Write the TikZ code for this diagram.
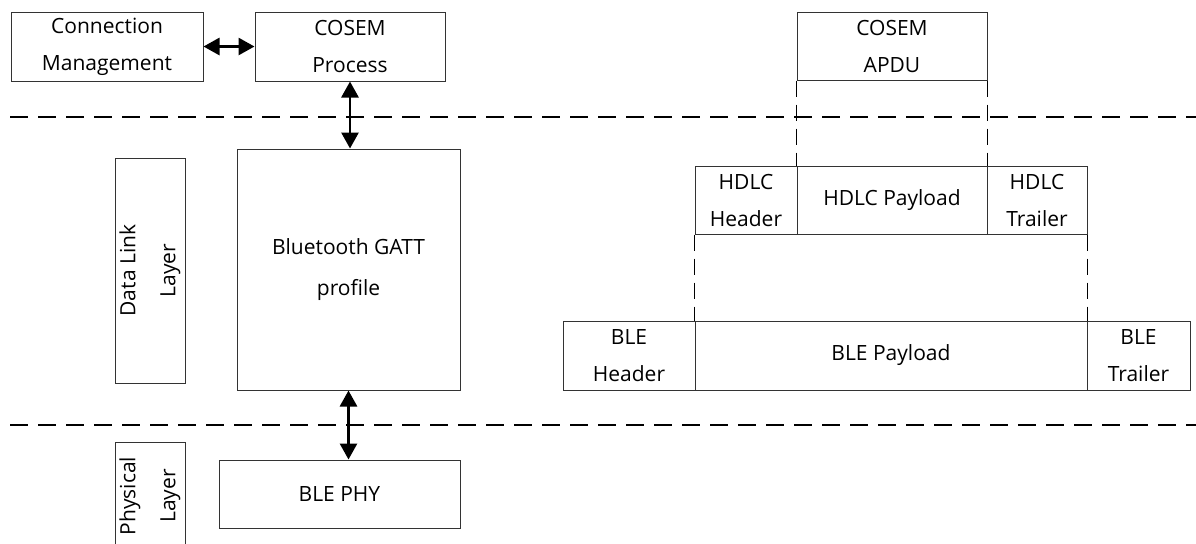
\documentclass[tikz,border=0pt]{standalone}
\usepackage{fontspec}
\setmainfont{Open Sans}
\usetikzlibrary{arrows.meta}

\begin{document}
\begin{tikzpicture}[
    x=0.5pt, y=-0.5pt,
    block/.style={rectangle, draw=black!80, line width=0.5pt, inner sep=0pt,
                  align=center, font=\fontsize{10.5}{18.5}\selectfont},
    layerbox/.style={block, minimum width=35pt},
    sep/.style={line width=1.2pt, dash pattern=on 9pt off 5pt},
    mapping/.style={line width=0.7pt, dash pattern=on 8pt off 4pt},
    link/.style={{Triangle[length=8pt,width=8.5pt]}-{Triangle[length=8pt,width=8.5pt]}, line width=1.4pt}
]

% Frame
\clip (0,0) rectangle (1196,543);

% Layer separators
\draw[sep] (10,117) -- (1196,117);
\draw[sep] (10,425) -- (1196,425);

% Left stack
\node[block, minimum width=96pt, minimum height=34.5pt] at (107,46.5) (conn) {Connection\\Management};
\node[block, minimum width=95pt, minimum height=34.5pt] at (350,46.5) (proc) {COSEM\\Process};
\node[block, minimum width=111.5pt, minimum height=120.5pt,
      font=\fontsize{10.5}{20.5}\selectfont] at (348.5,269.5) (gatt) {Bluetooth GATT\\profile};
\node[block, minimum width=120.5pt, minimum height=34pt] at (339.5,494) (phy) {BLE PHY};

% Layer names
\node[layerbox, minimum height=112.5pt] at (150,270.5) (dll) {};
\node[rotate=90, align=center, font=\fontsize{10.5}{20}\selectfont] at (dll.center) {Data Link\\Layer};
\node[layerbox, minimum height=54pt] at (150,496) (phyl) {};
\node[rotate=90, align=center, font=\fontsize{10.5}{20}\selectfont] at (phyl.center) {Physical\\Layer};

% Interfaces
\draw[link] (conn.east) -- (proc.west);
\draw[link] (proc.south) -- (proc.south |- gatt.north);
\draw[link] (gatt.south) -- (gatt.south |- phy.north);

% Encapsulation
\node[block, minimum width=95pt, minimum height=34pt] at (892,46) (apdu) {COSEM\\APDU};

\node[block, minimum width=51pt, minimum height=34pt] at (746,200) (hdlch) {HDLC\\Header};
\node[block, minimum width=95pt, minimum height=34pt] at (892,200) (hdlcp) {HDLC Payload};
\node[block, minimum width=50pt, minimum height=34pt] at (1037,200) (hdlct) {HDLC\\Trailer};

\node[block, minimum width=66pt, minimum height=34.5pt] at (629,355.5) (bleh) {BLE\\Header};
\node[block, minimum width=196pt, minimum height=34.5pt] at (891,355.5) (blep) {BLE Payload};
\node[block, minimum width=51.5pt, minimum height=34.5pt] at (1138.5,355.5) (blet) {BLE\\Trailer};

\draw[mapping] (apdu.south west) -- (hdlcp.north west);
\draw[mapping] (apdu.south east) -- (hdlcp.north east);
\draw[mapping] (hdlch.south west) -- (blep.north west);
\draw[mapping] (hdlct.south east) -- (blep.north east);

\end{tikzpicture}
\end{document}
